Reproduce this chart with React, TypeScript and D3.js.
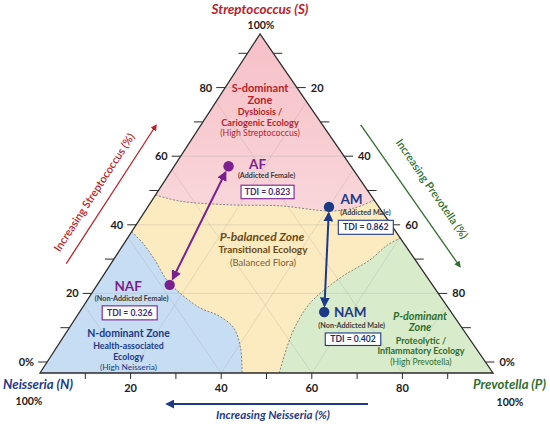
import React from "react";
import * as d3 from "d3";

// ---------- DATA ----------
const groups = ["AF", "NAF", "AM", "NAM"];
const groupNames = ["(Addicted Female)", "(Non-Addicted Female)", "(Addicted Male)", "(Non-Addicted Male)"];
const streptococcusPct = [61, 26, 49, 18];
const prevotellaPct = [12, 16, 40, 54];
const tdiValues = [0.823, 0.326, 0.862, 0.402];
const groupSex = ["F", "F", "M", "M"];

// zone boundaries as [S%, P%] (N% = 100 - S - P)
const sZoneBoundary = [[52.5, 0], [50.7, 6.3], [49.6, 17.8], [49.3, 29.1], [47.8, 40.8], [48.7, 45.8], [51, 49]];
const nZoneBoundary = [[41.7, 0], [38.3, 4.1], [33.3, 9.2], [27.4, 14.7], [23.6, 19.4], [19.2, 26.0], [17.1, 30.8], [13.6, 36.0], [7.7, 40.5], [0, 44.6]];
const pZoneBoundary = [[0, 52.8], [7.7, 50.8], [13.6, 49.7], [20.6, 49.6], [28.0, 52.6], [33.3, 56.6], [37.8, 58.4], [39.8, 60.2]];

const tickValues = [10, 20, 30, 40, 50, 60, 70, 80, 90];
const leftTickValues = [0, 10, 20, 30, 40, 50, 60, 70, 80, 90];
const leftTickLabels = ["0%", "20", "40", "60", "80"];
const leftLabelValues = [0, 20, 40, 60, 80];
const rightLabelValues = [20, 40, 60, 80, 100];
const rightTickLabels = ["20", "40", "60", "80", "0%"];
const bottomLabelValues = [20, 40, 60, 80];
const bottomTickLabels = ["20", "40", "60", "80"];
const gridValues = [20, 40, 60, 80];

// ---------- LAYOUT ----------
const W = 550, H = 424;
const X0 = 40, X1 = 493, YB = 373, YA = 34, XA = 260;
const apexU = ((XA - X0) / (X1 - X0)) * 100;
const xS = d3.scaleLinear().domain([0, 100]).range([X0, X1]);
const yS = d3.scaleLinear().domain([0, 100]).range([YB, YA]);
const sideTick = d3.scaleLinear().domain([0, 100]).range([362, 19]);

const project = (s: number, p: number): [number, number] => [xS(p + (s * apexU) / 100), yS(s)];
const leftEdgeX = (y: number) => X0 + ((YB - y) / (YB - YA)) * (XA - X0);
const rightEdgeX = (y: number) => X1 - ((YB - y) / (YB - YA)) * (X1 - XA);

const apex = project(100, 0), BL = project(0, 0), BR = project(0, 100);

const FONT = "Lato, 'Open Sans', sans-serif";
const RED = "#b8232b", GREEN = "#2f6e2c", NAVY = "#1d3a87", PURPLE = "#7b1f8e", BROWN = "#6a4a17";

const labelLayout = [
  { lx: 29, ly: 3, nx: 38, ny: 11.5, bx: 39, by: 19, bw: 53, bh: 13.5 },
  { lx: -41.5, ly: 6.5, nx: -38, ny: 16.5, bx: -40, by: 21, bw: 55, bh: 14 },
  { lx: 22.5, ly: -3.3, nx: 36.5, ny: 7.7, bx: 36.8, by: 13.4, bw: 55, bh: 14 },
  { lx: 26, ly: 5.3, nx: 27.5, ny: 16, bx: 28.8, by: 21, bw: 55.5, bh: 12.5 },
];

function edgeOffset(a: [number, number], b: [number, number], t: number, off: number): [number, number] {
  const dx = b[0] - a[0], dy = b[1] - a[1];
  const L = Math.hypot(dx, dy);
  const ux = dx / L, uy = dy / L;
  const nx = uy, ny = -ux;
  return [a[0] + ux * t + nx * off, a[1] + uy * t + ny * off];
}

export default function App() {
  const boundaryLine = d3.line<number[]>()
    .x((d) => project(d[0], d[1])[0])
    .y((d) => project(d[0], d[1])[1])
    .curve(d3.curveCatmullRom.alpha(0.5));

  const sPath = boundaryLine(sZoneBoundary) as string;
  const nPath = boundaryLine(nZoneBoundary) as string;
  const pPath = boundaryLine(pZoneBoundary) as string;

  const triPath = `M${apex}L${BL}L${BR}Z`;
  const pinkArea = `M${apex}` + sPath.replace(/^M/, "L") + "Z";
  const blueArea = `M${BL}` + nPath.replace(/^M/, "L") + "Z";
  const greenArea = `M${BR}` + pPath.replace(/^M/, "L") + "Z";

  const leftDir = [(XA - X0), (YA - YB)];
  const rightDir = [(XA - X1), (YA - YB)];
  const gridLines: string[] = [];
  gridValues.forEach((v) => {
    const y = sideTick(v);
    gridLines.push(`M${leftEdgeX(y)},${y}L${rightEdgeX(y)},${y}`);
    const bx = xS(v);
    gridLines.push(`M${bx},${YB}L${bx + leftDir[0]},${YB + leftDir[1]}`);
    gridLines.push(`M${bx},${YB}L${bx + rightDir[0]},${YB + rightDir[1]}`);
  });

  const pts = groups.map((g, i) => {
    const [x, y] = project(streptococcusPct[i], prevotellaPct[i]);
    return { g, i, x, y, color: groupSex[i] === "F" ? PURPLE : NAVY };
  });

  const shorten = (a: { x: number; y: number }, b: { x: number; y: number }, d: number) => {
    const L = Math.hypot(b.x - a.x, b.y - a.y);
    const ux = (b.x - a.x) / L, uy = (b.y - a.y) / L;
    return [a.x + ux * d, a.y + uy * d, b.x - ux * d, b.y - uy * d];
  };
  const fArrow = shorten(pts[1], pts[0], 7);
  const mArrow = shorten(pts[2], pts[3], 6.5);

  const lA = edgeOffset(BL, apex, 106, 37.5);
  const lB = edgeOffset(BL, apex, 271, 37.5);
  const lT = edgeOffset(BL, apex, 181, 49);
  const rA = edgeOffset(apex, BR, 132, 31.5);
  const rB = edgeOffset(apex, BR, 305, 33);
  const rT = edgeOffset(apex, BR, 225, 50);
  const leftAngle = (Math.atan2(YA - YB, XA - X0) * 180) / Math.PI;
  const rightAngle = (Math.atan2(YB - YA, X1 - XA) * 180) / Math.PI;

  return (
    <svg width={W} height={H} viewBox={`0 0 ${W} ${H}`} style={{ display: "block", position: "absolute", left: 0, top: 0, background: "#fff" }} fontFamily={FONT}>
      <defs>
        <clipPath id="tri"><path d={triPath} /></clipPath>
        {[["red", RED], ["green", GREEN], ["navy", NAVY], ["purple", PURPLE]].map(([id, c]) => (
          <marker key={id} id={`ah-${id}`} viewBox="0 0 10 10" refX="8" refY="5" markerWidth="5" markerHeight="5" orient="auto-start-reverse" markerUnits="strokeWidth">
            <path d="M0,0L10,5L0,10Z" fill={c} />
          </marker>
        ))}
        <linearGradient id="pinkG" x1="0" y1="0" x2="0" y2="1">
          <stop offset="0" stopColor="#f6c0c7" />
          <stop offset="1" stopColor="#f9d6da" />
        </linearGradient>
      </defs>

      {/* zones */}
      <path d={triPath} fill="#fcebc1" />
      <g clipPath="url(#tri)">
        <path d={pinkArea} fill="url(#pinkG)" />
        <path d={blueArea} fill="#c7ddf3" />
        <path d={greenArea} fill="#d8ebcb" />
        {gridLines.map((d, i) => (
          <path key={i} d={d} stroke="#9a958f" strokeOpacity={0.4} strokeWidth={0.6} fill="none" />
        ))}
        <path d={sPath} fill="none" stroke="#777" strokeWidth={0.9} strokeDasharray="2,1.6" />
        <path d={nPath} fill="none" stroke="#777" strokeWidth={0.9} strokeDasharray="2,1.6" />
        <path d={pPath} fill="none" stroke="#777" strokeWidth={0.9} strokeDasharray="2,1.6" />
      </g>
      <path d={triPath} fill="none" stroke="#2b2b2b" strokeWidth={1.3} strokeLinejoin="miter" />

      {/* left ticks */}
      {leftTickValues.map((v) => {
        const y = sideTick(v), x = leftEdgeX(y);
        return <line key={`lt${v}`} x1={x - 9} x2={x} y1={y} y2={y} stroke="#2b2b2b" strokeWidth={1} />;
      })}
      {leftLabelValues.map((v, i) => {
        const y = sideTick(v), x = leftEdgeX(y);
        return <text key={`ll${v}`} x={x - 13} y={y + 4} textAnchor="end" fontSize={11} fontWeight={700} fill="#222">{leftTickLabels[i]}</text>;
      })}
      {/* right ticks */}
      {tickValues.concat([100]).map((v) => {
        const y = sideTick(100 - v), x = rightEdgeX(y);
        return <line key={`rt${v}`} x1={x} x2={x + 9} y1={y} y2={y} stroke="#2b2b2b" strokeWidth={1} />;
      })}
      {rightLabelValues.map((v, i) => {
        const y = sideTick(100 - v), x = rightEdgeX(y);
        return <text key={`rl${v}`} x={x + 14} y={y + 4} textAnchor="start" fontSize={11} fontWeight={700} fill="#222">{rightTickLabels[i]}</text>;
      })}
      {/* bottom ticks */}
      {tickValues.map((v) => (
        <line key={`bt${v}`} x1={xS(v)} x2={xS(v)} y1={YB} y2={YB + 6} stroke="#2b2b2b" strokeWidth={1} />
      ))}
      {bottomLabelValues.map((v, i) => (
        <text key={`bl${v}`} x={xS(v)} y={392} textAnchor="middle" fontSize={11} fontWeight={700} fill="#222">{bottomTickLabels[i]}</text>
      ))}

      {/* corner titles */}
      <text x={XA} y={14} textAnchor="middle" fontSize={13.5} fontWeight={700} fontStyle="italic" fill={RED}>Streptococcus (S)</text>
      <text x={XA + 1} y={29} textAnchor="middle" fontSize={10.5} fontWeight={700} fill="#222">100%</text>
      <text x={3} y={389} textAnchor="start" fontSize={13} fontWeight={700} fontStyle="italic" fill={NAVY} textLength={70} lengthAdjust="spacingAndGlyphs">Neisseria (N)</text>
      <text x={29} y={405} textAnchor="middle" fontSize={10.5} fontWeight={700} fill="#222">100%</text>
      <text x={473} y={389} textAnchor="start" fontSize={13} fontWeight={700} fontStyle="italic" fill={GREEN} textLength={73} lengthAdjust="spacingAndGlyphs">Prevotella (P)</text>
      <text x={510} y={406} textAnchor="middle" fontSize={10.5} fontWeight={700} fill="#222">100%</text>

      {/* zone texts */}
      <g textAnchor="middle">
        <text x={XA} y={92} fontSize={11} fontWeight={700} fill={RED}>S-dominant</text>
        <text x={XA} y={103.5} fontSize={11} fontWeight={700} fill={RED}>Zone</text>
        <text x={XA} y={115} fontSize={9} fontWeight={700} fill={RED}>Dysbiosis /</text>
        <text x={XA} y={125.5} fontSize={9.2} fontWeight={700} fill={RED}>Cariogenic Ecology</text>
        <text x={XA} y={136} fontSize={8.8} fill={RED}>(High Streptococcus)</text>

        <text x={262} y={241} fontSize={12} fontWeight={700} fontStyle="italic" fill={BROWN}>P-balanced Zone</text>
        <text x={263} y={253} fontSize={10} fontWeight={700} fill={BROWN}>Transitional Ecology</text>
        <text x={263} y={265.5} fontSize={9.5} fill="#7a6238">(Balanced Flora)</text>

        <text x={128.5} y={337} fontSize={10.5} fontWeight={700} fill={NAVY}>N-dominant Zone</text>
        <text x={128.5} y={348.5} fontSize={8.8} fontWeight={700} fill={NAVY}>Health-associated</text>
        <text x={128.5} y={359.5} fontSize={8.8} fontWeight={700} fill={NAVY}>Ecology</text>
        <text x={128.5} y={370} fontSize={8.3} fill={NAVY}>(High Neisseria)</text>

        <text x={420} y={319.5} fontSize={10.8} fontWeight={700} fontStyle="italic" fill={GREEN}>P-dominant</text>
        <text x={420} y={331} fontSize={10.8} fontWeight={700} fontStyle="italic" fill={GREEN}>Zone</text>
        <text x={421} y={343.5} fontSize={9} fontWeight={700} fill={GREEN}>Proteolytic /</text>
        <text x={421} y={354} fontSize={9} fontWeight={700} fill={GREEN}>Inflammatory Ecology</text>
        <text x={421} y={364.5} fontSize={8.5} fill={GREEN}>(High Prevotella)</text>
      </g>

      {/* connection arrows */}
      <line x1={fArrow[0]} y1={fArrow[1]} x2={fArrow[2]} y2={fArrow[3]} stroke={PURPLE} strokeWidth={2} markerStart="url(#ah-purple)" markerEnd="url(#ah-purple)" />
      <line x1={mArrow[0]} y1={mArrow[1]} x2={mArrow[2]} y2={mArrow[3]} stroke={NAVY} strokeWidth={2} markerStart="url(#ah-navy)" markerEnd="url(#ah-navy)" />

      {/* points & labels */}
      {pts.map((p) => {
        const L = labelLayout[p.i];
        return (
          <g key={p.g}>
            <circle cx={p.x} cy={p.y} r={5.2} fill={p.color} />
            <text x={p.x + L.lx} y={p.y + L.ly} textAnchor="middle" fontSize={13.5} fontWeight={700} fill={p.color}>{p.g}</text>
            <text x={p.x + L.nx} y={p.y + L.ny} textAnchor="middle" fontSize={7.2} fontWeight={700} fill="#3a3a3a">{groupNames[p.i]}</text>
            <rect x={p.x + L.bx - L.bw / 2} y={p.y + L.by} width={L.bw} height={L.bh} fill="#fff" stroke={p.color} strokeWidth={1.1} />
            <text x={p.x + L.bx} y={p.y + L.by + L.bh / 2 + 3} textAnchor="middle" fontSize={8.6} fontWeight={700} fill={p.color === PURPLE ? "#4a2a6e" : "#1d3266"}>{`TDI = ${tdiValues[p.i].toFixed(3)}`}</text>
          </g>
        );
      })}

      {/* direction arrows */}
      <line x1={lA[0]} y1={lA[1]} x2={lB[0]} y2={lB[1]} stroke={RED} strokeWidth={1.3} markerEnd="url(#ah-red)" />
      <text transform={`translate(${lT[0]},${lT[1]}) rotate(${leftAngle})`} textAnchor="middle" fontSize={11} fontWeight={600} fill={RED}>Increasing Streptococcus (%)</text>
      <line x1={rA[0]} y1={rA[1]} x2={rB[0]} y2={rB[1]} stroke={GREEN} strokeWidth={1.3} markerEnd="url(#ah-green)" />
      <text transform={`translate(${rT[0]},${rT[1]}) rotate(${rightAngle})`} textAnchor="middle" fontSize={11} fontWeight={600} fill={GREEN}>Increasing Prevotella (%)</text>
      <line x1={368} y1={404} x2={167} y2={404} stroke={NAVY} strokeWidth={1.8} markerEnd="url(#ah-navy)" />
      <text x={273} y={418.5} textAnchor="middle" fontSize={11.5} fontWeight={700} fontStyle="italic" fill={NAVY}>Increasing Neisseria (%)</text>
    </svg>
  );
}
